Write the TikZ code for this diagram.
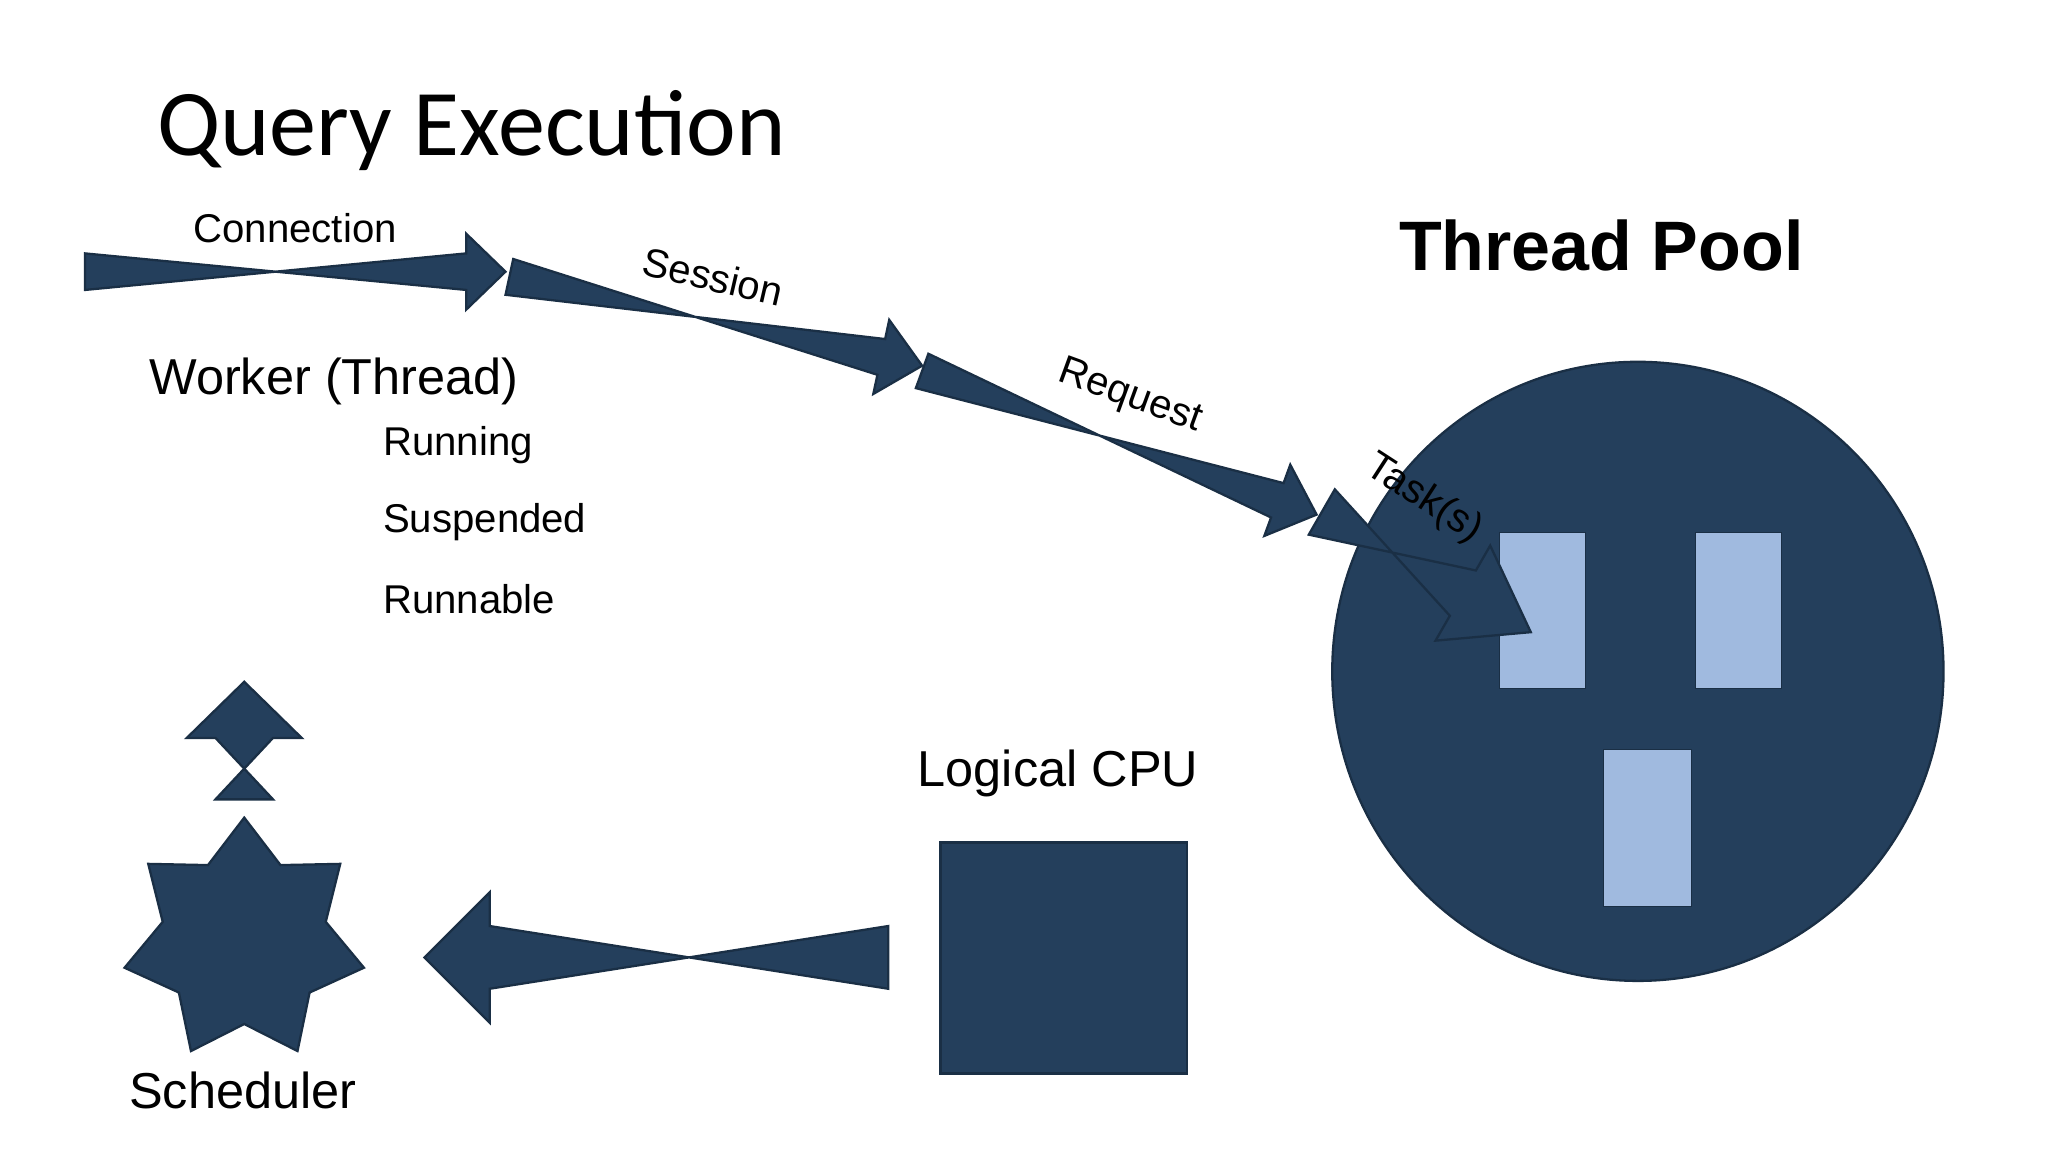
\documentclass[tikz,border=0pt]{standalone}
\usepackage{fontspec}
\setmainfont{Liberation Sans}
\newfontfamily\titlefont{Carlito}
\usetikzlibrary{calc}
\definecolor{navy}{HTML}{243F5C}
\definecolor{navyline}{HTML}{1A2F45}
\definecolor{lightb}{HTML}{A0BADF}
\newcommand{\fatarrow}[5]{% tail, tip, shaft half, head half, head len (cm)
  \fill[navy,draw=navyline,line width=1pt]
    ($(#1)!#3!-90:(#2)$) -- ($($(#2)!#5!(#1)$)!#3!90:(#2)$) -- ($($(#2)!#5!(#1)$)!#4!90:(#2)$) -- (#2)
    -- ($($(#2)!#5!(#1)$)!#4!-90:(#2)$) -- ($($(#2)!#5!(#1)$)!#3!-90:(#2)$) -- ($(#1)!#3!90:(#2)$) -- cycle;}
\begin{document}
\begin{tikzpicture}[x=0.02cm,y=-0.02cm,
  lbl/.style={font=\fontsize{17.5}{20}\selectfont,inner sep=0pt},
  big/.style={font=\fontsize{22}{26}\selectfont,inner sep=0pt}]
\useasboundingbox[fill=white] (0,0) rectangle (1568,882);
\node[font=\titlefont\fontsize{41}{48}\selectfont,anchor=west,inner sep=0pt] (title) at (120,100) {Query Execution};
\node[font=\fontsize{30.5}{36}\selectfont\bfseries,inner sep=0pt] (tp) at (1226,188) {Thread Pool};
% circle and rects
\fill[navy,draw=navyline,line width=1pt] (1254,514) ellipse (234 and 237);
\fill[lightb,draw=navyline] (1148,408) rectangle (1214,527);
\fill[lightb,draw=navyline] (1298,408) rectangle (1364,527);
\fill[lightb,draw=navyline] (1228,574) rectangle (1295,694);
% arrows
\coordinate (c1) at (65,208); \coordinate (c2) at (387,208);
\fatarrow{c1}{c2}{0.28cm}{0.58cm}{0.6cm}
\coordinate (s1) at (390,212); \coordinate (s2) at (706,280);
\fatarrow{s1}{s2}{0.28cm}{0.58cm}{0.64cm}
\coordinate (r1) at (706,284); \coordinate (r2) at (1008,394);
\fatarrow{r1}{r2}{0.28cm}{0.58cm}{0.64cm}
\coordinate (t1) at (1012,392); \coordinate (t2) at (1172,484);
\fatarrow{t1}{t2}{0.4cm}{0.84cm}{1.2cm}
\coordinate (u1) at (187,612); \coordinate (u2) at (187,522);
\fatarrow{u1}{u2}{0.44cm}{0.88cm}{0.86cm}
\coordinate (l1) at (680,733); \coordinate (l2) at (325,733);
\fatarrow{l1}{l2}{0.48cm}{1cm}{1cm}
% square
\fill[navy,draw=navyline,line width=1pt] (720,645) rectangle (909,822);
% star
\fill[navy,draw=navyline,line width=1pt] plot[samples at={0,...,13}] ({187+ifthenelse(mod(\x,2)==0,94,64)*cos(-90+\x*360/14)},{720+ifthenelse(mod(\x,2)==0,94,64)*sin(-90+\x*360/14)}) -- cycle;
% labels
\node[lbl] (conn) at (226,175) {Connection};
\node[lbl,rotate=-13] (sess) at (546,212) {Session};
\node[lbl,rotate=-20] (req) at (865,304) {Request};
\node[lbl,rotate=-33] (task) at (1090,382) {Task(s)};
\node[big,anchor=west] (worker) at (114,292) {Worker (Thread)};
\node[lbl,anchor=west] (run) at (293,341) {Running};
\node[lbl,anchor=west] (susp) at (293,400) {Suspended};
\node[lbl,anchor=west] (runn) at (293,459) {Runnable};
\node[big] (cpu) at (810,592) {Logical CPU};
\node[big] (sched) at (186,835) {Scheduler};
\end{tikzpicture}
\end{document}
